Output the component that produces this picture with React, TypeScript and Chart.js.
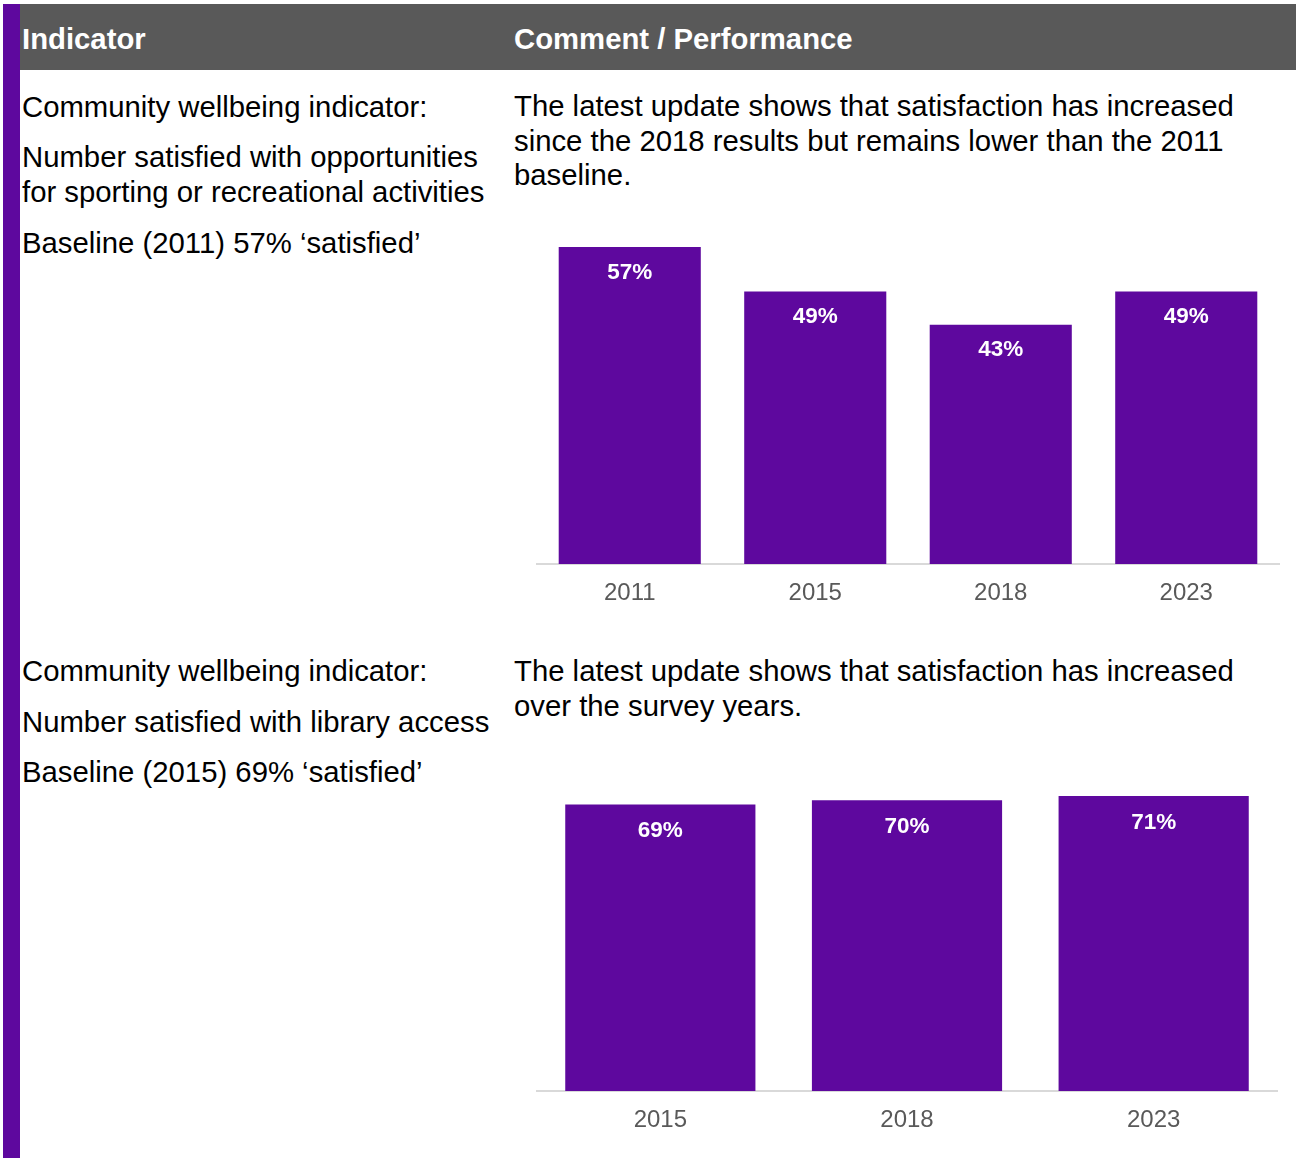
import React, { useEffect, useRef } from "react";
import { Chart, registerables } from "chart.js";

Chart.register(...registerables);

// ---- Data ----
const chart1Categories = ["2011", "2015", "2018", "2023"];
const chart1Values = [57, 49, 43, 49];

const chart2Categories = ["2015", "2018", "2023"];
const chart2Values = [69, 70, 71];

const PURPLE = "#5e089e";
const FONT = '"Liberation Sans", Arial, Helvetica, sans-serif';

const valueLabelPlugin = {
  id: "valueLabels",
  afterDatasetsDraw(chart: any, _args: any, opts: any) {
    const ctx = chart.ctx;
    ctx.save();
    ctx.font = `bold ${opts.size}px ${FONT}`;
    ctx.fillStyle = "#ffffff";
    ctx.textAlign = "center";
    ctx.textBaseline = "middle";
    chart.data.datasets.forEach((ds: any, i: number) => {
      const meta = chart.getDatasetMeta(i);
      meta.data.forEach((bar: any, j: number) => {
        ctx.fillText(`${ds.data[j]}%`, bar.x, bar.y + opts.offset);
      });
    });
    ctx.restore();
  },
};

type BarProps = {
  labels: string[];
  values: number[];
  yMax: number;
  barPct: number;
  left: number;
  top: number;
  width: number;
  height: number;
  labelOffset: number;
  pad: { left: number; right: number; top: number; bottom: number };
};

function BarChart(p: BarProps) {
  const ref = useRef<HTMLCanvasElement | null>(null);
  useEffect(() => {
    if (!ref.current) return;
    const chart = new Chart(ref.current, {
      type: "bar",
      data: {
        labels: p.labels,
        datasets: [
          {
            data: p.values,
            backgroundColor: PURPLE,
            borderWidth: 0,
            barPercentage: p.barPct,
            categoryPercentage: 1,
          },
        ],
      },
      options: {
        responsive: false,
        animation: false,
        devicePixelRatio: 1,
        layout: { padding: p.pad },
        plugins: {
          legend: { display: false },
          tooltip: { enabled: false },
          valueLabels: { size: 22.5, offset: p.labelOffset },
        } as any,
        scales: {
          x: {
            grid: { display: false, drawTicks: false },
            border: { display: true, color: "#d9d9d9", width: 2 },
            ticks: {
              color: "#595959",
              font: { family: FONT, size: 24 },
              padding: 15,
            },
            afterFit: (scale: any) => {
              scale.height = 60;
            },
          },
          y: {
            display: false,
            min: 0,
            max: p.yMax,
          },
        },
      },
      plugins: [valueLabelPlugin],
    });
    return () => chart.destroy();
  }, []);
  return (
    <canvas
      ref={ref}
      width={p.width}
      height={p.height}
      style={{
        position: "absolute",
        left: p.left,
        top: p.top,
        width: p.width,
        height: p.height,
      }}
    />
  );
}

const textStyle: React.CSSProperties = {
  position: "absolute",
  fontFamily: FONT,
  fontSize: "29.3px",
  lineHeight: "35px",
  color: "#000",
  margin: 0,
};

function T(props: { left: number; top: number; width: number; lh?: number; children: any }) {
  return (
    <div
      style={{
        ...textStyle,
        left: props.left,
        top: props.top,
        width: props.width,
        lineHeight: props.lh ? `${props.lh}px` : "35px",
      }}
    >
      {props.children}
    </div>
  );
}

export default function App() {
  return (
    <div
      style={{
        position: "absolute",
        left: 0,
        top: 0,
        width: 1296,
        height: 1158,
        background: "#ffffff",
        overflow: "hidden",
      }}
    >
      {/* left purple strip */}
      <div
        style={{ position: "absolute", left: 3, top: 4, width: 17, height: 1154, background: PURPLE }}
      />
      {/* header */}
      <div
        style={{ position: "absolute", left: 20, top: 4, width: 1276, height: 66, background: "#595959" }}
      />
      <div style={{ ...textStyle, left: 22, top: 21.3, color: "#fff", fontWeight: "bold" }}>Indicator</div>
      <div style={{ ...textStyle, left: 514, top: 21.3, color: "#fff", fontWeight: "bold" }}>
        Comment / Performance
      </div>

      {/* Row 1 */}
      <T left={22} top={88.5} width={480}>Community wellbeing indicator:</T>
      <T left={22} top={138.5} width={480}>
        Number satisfied with opportunities for sporting or recreational activities
      </T>
      <T left={22} top={224.5} width={480}>Baseline (2011) 57% ‘satisfied’</T>
      <T left={514} top={89} width={772} lh={34.6}>
        The latest update shows that satisfaction has increased since the 2018 results but remains lower than
        the 2011 baseline.
      </T>
      <BarChart
        labels={chart1Categories}
        values={chart1Values}
        yMax={60}
        barPct={0.766}
        left={517}
        top={220}
        width={779}
        height={404}
        labelOffset={25.5}
        pad={{ left: 20, right: 17, top: 10.2, bottom: 0 }}
      />

      {/* Row 2 */}
      <T left={22} top={652.5} width={480}>Community wellbeing indicator:</T>
      <T left={22} top={703.5} width={480}>Number satisfied with library access</T>
      <T left={22} top={753.5} width={480}>Baseline (2015) 69% ‘satisfied’</T>
      <T left={514} top={652.5} width={772}>
        The latest update shows that satisfaction has increased over the survey years.
      </T>
      <BarChart
        labels={chart2Categories}
        values={chart2Values}
        yMax={75}
        barPct={0.771}
        left={517}
        top={770}
        width={779}
        height={381}
        labelOffset={26.5}
        pad={{ left: 20, right: 19, top: 9.5, bottom: 0 }}
      />
    </div>
  );
}
